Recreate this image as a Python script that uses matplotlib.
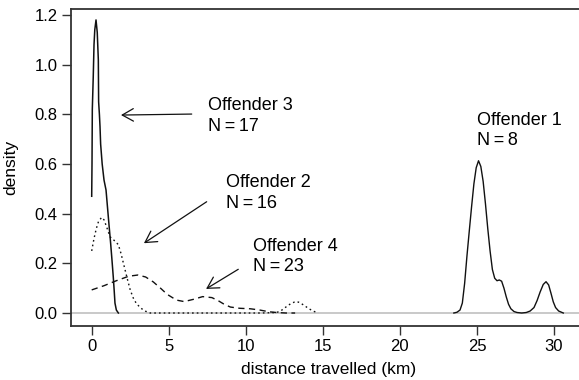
import matplotlib
matplotlib.use("Agg")
import matplotlib.pyplot as plt

plt.rcParams['font.family'] = ['Liberation Sans', 'DejaVu Sans']

# ---- data ----
off3_x = [0.0, 0.02, 0.04, 0.10, 0.15, 0.20, 0.28, 0.36, 0.43, 0.45, 0.50, 0.54, 0.58,
          0.68, 0.80, 0.93, 1.04, 1.13, 1.23, 1.32, 1.40, 1.46, 1.51, 1.60, 1.73]
off3_y = [0.47, 0.60, 0.82, 0.95, 1.08, 1.14, 1.18, 1.13, 1.02, 0.85, 0.80, 0.75, 0.68,
          0.60, 0.535, 0.495, 0.415, 0.35, 0.28, 0.21, 0.145, 0.09, 0.04, 0.012, 0.0]

off2_x = [0.0, 0.15, 0.3, 0.45, 0.65, 0.8, 0.95, 1.19, 1.5, 1.73, 1.9, 2.1, 2.3, 2.5, 2.7,
          2.9, 3.2, 3.5, 3.8, 5.0, 7.0, 9.0, 11.0, 12.0, 12.3, 12.6, 12.9, 13.15, 13.3,
          13.5, 13.8, 14.1, 14.4, 14.7]
off2_y = [0.25, 0.30, 0.34, 0.37, 0.385, 0.375, 0.35, 0.307, 0.29, 0.275, 0.24, 0.19, 0.14,
          0.093, 0.06, 0.038, 0.019, 0.007, 0.0, 0.0, 0.0, 0.0, 0.0, 0.002, 0.01, 0.024,
          0.037, 0.044, 0.046, 0.042, 0.03, 0.017, 0.007, 0.0]

off4_x = [0.0, 0.8, 1.6, 2.4, 3.0, 3.5, 4.0, 4.5, 4.9, 5.5, 6.0, 6.6, 7.2, 7.8, 8.2, 8.6,
          9.0, 9.6, 10.3, 10.9, 11.5, 12.0, 12.6, 13.2]
off4_y = [0.093, 0.11, 0.13, 0.148, 0.153, 0.145, 0.125, 0.098, 0.075, 0.052, 0.046, 0.055,
          0.066, 0.062, 0.05, 0.035, 0.024, 0.019, 0.017, 0.012, 0.005, 0.002, 0.0, 0.0]

off1_x = [23.5, 23.7, 23.9, 24.05, 24.2, 24.35, 24.5, 24.65, 24.8, 24.95, 25.1, 25.25, 25.4,
          25.55, 25.7, 25.85, 26.0, 26.15, 26.3, 26.45, 26.6, 26.75, 26.9, 27.05, 27.2, 27.4,
          27.6, 27.9, 28.2, 28.45, 28.7, 28.9, 29.1, 29.3, 29.48, 29.65, 29.8, 29.95, 30.1,
          30.3, 30.6]
off1_y = [0.0, 0.003, 0.012, 0.04, 0.12, 0.23, 0.33, 0.428, 0.52, 0.585, 0.613, 0.59, 0.53,
          0.44, 0.34, 0.25, 0.175, 0.14, 0.13, 0.133, 0.128, 0.10, 0.065, 0.035, 0.017, 0.006,
          0.002, 0.0, 0.002, 0.008, 0.022, 0.05, 0.085, 0.115, 0.126, 0.113, 0.08, 0.045, 0.022,
          0.008, 0.0]

labels = ["Offender 1", "Offender 2", "Offender 3", "Offender 4"]
counts = [8, 16, 17, 23]

x_ticks = [0, 5, 10, 15, 20, 25, 30]
y_ticks = [0.0, 0.2, 0.4, 0.6, 0.8, 1.0, 1.2]
y_ticklabels = ["0.0", "0.2", "0.4", "0.6", "0.8", "1.0", "1.2"]

# ---- figure ----
fig = plt.figure(figsize=(5.79, 3.80), dpi=100)
ax = fig.add_axes([71 / 579, 54.5 / 380, 1 - 71 / 579, (371 - 54.5) / 380])

ax.axhline(0, color='#bbbbbb', lw=1.1, zorder=1)

ax.plot(off3_x, off3_y, color='#111111', lw=1.1, solid_joinstyle='round')
ax.plot(off2_x, off2_y, color='#111111', lw=1.0, linestyle=(0, (1.2, 2.2)))
ax.plot(off4_x, off4_y, color='#111111', lw=1.0, linestyle=(0, (4.5, 3.2)))
ax.plot(off1_x, off1_y, color='#111111', lw=1.0, solid_joinstyle='round')

ax.set_xlim(-1.343, 31.62)
ax.set_ylim(-0.0503, 1.224)

ax.spines['right'].set_visible(False)
for s in ['left', 'bottom', 'top']:
    ax.spines[s].set_color('#333333')
    ax.spines[s].set_linewidth(1.3)

ax.set_xticks(x_ticks)
ax.set_yticks(y_ticks)
ax.set_yticklabels(y_ticklabels)
ax.tick_params(axis='both', length=6.5, width=1.0, color='#333333', labelsize=12, pad=3)

ax.set_xlabel("distance travelled (km)", fontsize=12.5)
ax.xaxis.set_label_coords(0.507, -0.115)
ax.set_ylabel("density", fontsize=12.5, labelpad=12)

tfs = 13
arrow_kw = dict(arrowstyle="->,head_length=0.8,head_width=0.45", color='#111111',
                lw=0.9, mutation_scale=10, shrinkA=0, shrinkB=0)
ts = "\u2009"

# Offender 3
ax.annotate("", xy=(1.90, 0.797), xytext=(6.49, 0.801), arrowprops=arrow_kw)
ax.text(7.57, 0.818, labels[2], fontsize=tfs, va='baseline', ha='left')
ax.text(7.57, 0.734, "N" + ts + "=" + ts + str(counts[2]), fontsize=tfs, va='baseline', ha='left')

# Offender 2
ax.annotate("", xy=(3.39, 0.281), xytext=(7.46, 0.448), arrowprops=arrow_kw)
ax.text(8.70, 0.506, labels[1], fontsize=tfs, va='baseline', ha='left')
ax.text(8.70, 0.424, "N" + ts + "=" + ts + str(counts[1]), fontsize=tfs, va='baseline', ha='left')

# Offender 4
ax.annotate("", xy=(7.42, 0.097), xytext=(9.51, 0.176), arrowprops=arrow_kw)
ax.text(10.45, 0.251, labels[3], fontsize=tfs, va='baseline', ha='left')
ax.text(10.45, 0.169, "N" + ts + "=" + ts + str(counts[3]), fontsize=tfs, va='baseline', ha='left')

# Offender 1
ax.text(24.98, 0.757, labels[0], fontsize=tfs, va='baseline', ha='left')
ax.text(24.98, 0.677, "N" + ts + "=" + ts + str(counts[0]), fontsize=tfs, va='baseline', ha='left')

fig.savefig("out.png", dpi=100)
